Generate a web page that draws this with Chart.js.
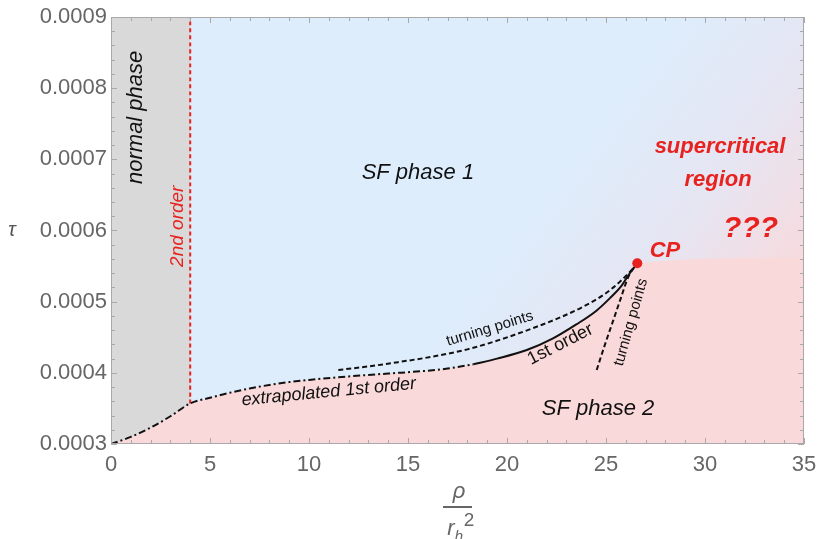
<!DOCTYPE html>
<html>
<head>
<meta charset="utf-8">
<script src="https://cdn.jsdelivr.net/npm/chart.js@4.4.0/dist/chart.umd.min.js"></script>
<style>
  html, body { margin: 0; padding: 0; background: #fff; }
</style>
</head>
<body>
<canvas id="chart" width="819" height="539"></canvas>
<script>
// phase boundaries (rho / r_h^2 , tau)
const extrapRho = [0, 1, 2, 3, 4, 5, 6, 7, 8, 9, 10, 12, 14, 16, 17, 18.3];
const extrapTau = [0.000300, 0.000310, 0.000323, 0.000339, 0.000357, 0.000365, 0.000372, 0.000378,
                   0.000383, 0.000387, 0.000390, 0.000395, 0.000399, 0.000403, 0.000406, 0.000412];
const firstRho = [18.3, 19.5, 21, 22.3, 23.5, 24.5, 25.2, 25.8, 26.2, 26.58];
const firstTau = [0.000412, 0.000420, 0.000432, 0.000448, 0.000468, 0.000487, 0.000505, 0.000523, 0.000540, 0.000554];
const turnUpRho = [11.48, 13, 14.5, 16.28, 18, 19.7, 21.33, 22.7, 23.85, 24.9, 25.7, 26.38, 26.58];
const turnUpTau = [0.000404, 0.000409, 0.000415, 0.000423, 0.000433, 0.000447, 0.000463, 0.000478,
                   0.000493, 0.000510, 0.000528, 0.000547, 0.000554];
const turnLoRho = [24.53, 24.95, 25.37, 25.75, 26.13, 26.58];
const turnLoTau = [0.000404, 0.000440, 0.000474, 0.000505, 0.000535, 0.000554];
const cpRho = 26.58, cpTau = 0.000554;
const secondOrderRho = 4;
const supercritEdgeTau = 0.000562;   // pink edge right of CP
const xTicks = [0, 5, 10, 15, 20, 25, 30, 35];
const yTicks = [0.0003, 0.0004, 0.0005, 0.0006, 0.0007, 0.0008, 0.0009];

const pts = (xs, ys) => xs.map((x, i) => ({ x, y: ys[i] }));
const extrap = pts(extrapRho, extrapTau);
const first = pts(firstRho, firstTau);

// region edges built from the curves
const normalEdge = extrap.filter(p => p.x <= secondOrderRho);
const sfEdge = extrap.filter(p => p.x >= secondOrderRho).concat(first.slice(1), [{ x: 35, y: supercritEdgeTau }]);
const secondOrderLine = [{ x: secondOrderRho, y: extrapTau[extrapRho.indexOf(secondOrderRho)] }, { x: secondOrderRho, y: 0.0009 }];

const PINK = '#f9d9d9', BLUE = '#ddedfc', GRAY = '#d9d9d9', RED = '#e8221e', FRAME = '#a9a9a9';
const FONT = '"Liberation Sans", Arial, sans-serif';

const notes = [
  { text: 'normal phase', x: 1.26, y: 0.000759, rot: -90, size: 22, color: '#111', font: 'italic' },
  { text: '2nd order', x: 3.38, y: 0.000606, rot: -90, size: 19, color: RED, font: 'italic' },
  { text: 'SF phase 1', x: 15.5, y: 0.000681, rot: 0, size: 22, color: '#111', font: 'italic' },
  { text: 'SF phase 2', x: 24.6, y: 0.000350, rot: 0, size: 22, color: '#111', font: 'italic' },
  { text: 'supercritical', x: 30.76, y: 0.000717, rot: 0, size: 22, color: RED, font: 'italic bold' },
  { text: 'region', x: 30.66, y: 0.000671, rot: 0, size: 22, color: RED, font: 'italic bold' },
  { text: '???', x: 32.3, y: 0.000603, rot: 0, size: 30, color: RED, font: 'italic bold' },
  { text: 'CP', x: 27.98, y: 0.000571, rot: 0, size: 22, color: RED, font: 'italic bold' },
  { text: 'extrapolated 1st order', x: 11.0, y: 0.000373, rot: -5.5, size: 18, color: '#111', font: 'italic' },
  { text: 'turning points', x: 19.14, y: 0.000462, rot: -17, size: 15, color: '#111', font: 'normal' },
  { text: '1st order', x: 22.7, y: 0.000440, rot: -27, size: 18, color: '#111', font: 'normal' },
  { text: 'turning points', x: 26.26, y: 0.000471, rot: -74, size: 15, color: '#111', font: 'normal' },
];

const bgPlugin = {
  id: 'bg',
  beforeDatasetsDraw(chart) {
    const { ctx, chartArea: a } = chart;
    ctx.save();
    ctx.fillStyle = PINK;
    ctx.fillRect(a.left, a.top, a.right - a.left, a.bottom - a.top);
    ctx.restore();
  }
};

const framePlugin = {
  id: 'frame',
  afterDatasetsDraw(chart) {
    const { ctx, chartArea: a, scales: { x, y } } = chart;
    ctx.save();
    // labels on the plot
    for (const n of notes) {
      ctx.save();
      ctx.translate(x.getPixelForValue(n.x), y.getPixelForValue(n.y));
      ctx.rotate(n.rot * Math.PI / 180);
      ctx.font = `${n.font} ${n.size}px ${FONT}`;
      ctx.fillStyle = n.color;
      ctx.textAlign = 'center';
      ctx.textBaseline = 'middle';
      ctx.fillText(n.text, 0, 0);
      ctx.restore();
    }
    // frame with inward ticks
    ctx.strokeStyle = FRAME;
    ctx.lineWidth = 1;
    ctx.strokeRect(a.left + 0.5, a.top + 0.5, a.right - a.left - 1, a.bottom - a.top - 1);
    ctx.beginPath();
    for (let i = 0; i <= 35; i++) {
      const px = Math.round(x.getPixelForValue(i)) + 0.5;
      const len = i % 5 === 0 ? 6 : 4;
      ctx.moveTo(px, a.bottom); ctx.lineTo(px, a.bottom - len);
      ctx.moveTo(px, a.top); ctx.lineTo(px, a.top + len);
    }
    for (let j = 0; j <= 30; j++) {
      const py = Math.round(y.getPixelForValue(0.0003 + j * 0.00002)) + 0.5;
      const len = j % 5 === 0 ? 6 : 4;
      ctx.moveTo(a.left, py); ctx.lineTo(a.left + len, py);
      ctx.moveTo(a.right, py); ctx.lineTo(a.right - len, py);
    }
    ctx.stroke();
    // axis titles
    ctx.fillStyle = '#555';
    ctx.textAlign = 'center';
    ctx.textBaseline = 'middle';
    ctx.font = `italic 20px ${FONT}`;
    ctx.fillText('τ', 12, y.getPixelForValue(0.0006));
    const cx = 457;
    ctx.fillStyle = '#666';
    ctx.font = `italic 22px ${FONT}`;
    ctx.fillText('ρ', cx + 2, 492);
    ctx.fillRect(cx - 14, 506, 29, 2);
    ctx.fillText('r', cx - 6, 529);
    ctx.font = `italic 15px ${FONT}`;
    ctx.fillText('h', cx + 2, 537);
    ctx.font = `19px ${FONT}`;
    ctx.fillText('2', cx + 12, 521);
    ctx.restore();
  }
};

function sfFill(c) {
  const { chart } = c;
  const { chartArea: a, scales } = chart;
  if (!a) return BLUE;
  const g = chart.ctx.createLinearGradient(scales.x.getPixelForValue(25), scales.y.getPixelForValue(0.00078),
                                           scales.x.getPixelForValue(35), scales.y.getPixelForValue(0.00057));
  g.addColorStop(0, BLUE);
  g.addColorStop(0.55, '#e6e5f2');
  g.addColorStop(1, '#f6dbdf');
  return g;
}

const line = (data, color, dash, order) => ({
  data, borderColor: color, borderWidth: 2, borderDash: dash, pointRadius: 0,
  cubicInterpolationMode: 'monotone', fill: false, order, showLine: true
});

new Chart(document.getElementById('chart').getContext('2d'), {
  type: 'scatter',
  data: {
    datasets: [
      { data: normalEdge, showLine: true, borderWidth: 0, pointRadius: 0, fill: 'end',
        backgroundColor: GRAY, cubicInterpolationMode: 'monotone', order: 10 },
      { data: sfEdge, showLine: true, borderWidth: 0, pointRadius: 0, fill: 'end',
        backgroundColor: sfFill, cubicInterpolationMode: 'monotone', order: 9 },
      line(secondOrderLine, RED, [4, 3], 5),
      line(extrap, '#111', [7, 3, 2, 3], 4),
      line(first, '#111', [], 3),
      line(pts(turnUpRho, turnUpTau), '#111', [5, 3], 3),
      line(pts(turnLoRho, turnLoTau), '#111', [5, 3], 3),
      { data: [{ x: cpRho, y: cpTau }], pointRadius: 5, pointBackgroundColor: RED, pointBorderWidth: 0, order: 1 },
    ]
  },
  options: {
    responsive: false, animation: false,
    layout: { padding: { top: 17, right: 15, left: 0, bottom: 0 } },
    plugins: { legend: { display: false }, tooltip: { enabled: false } },
    scales: {
      x: {
        type: 'linear', min: 0, max: 35,
        afterBuildTicks: s => { s.ticks = xTicks.map(v => ({ value: v })); },
        afterFit: s => { s.height = 95; s.paddingLeft = 0; s.paddingRight = 0; },
        grid: { display: false, drawTicks: false }, border: { display: false },
        ticks: { color: '#666', padding: 8, font: { family: FONT, size: 22 }, maxRotation: 0 }
      },
      y: {
        type: 'linear', min: 0.0003, max: 0.0009,
        afterBuildTicks: s => { s.ticks = yTicks.map(v => ({ value: v })); },
        afterFit: s => { s.width = 111; s.paddingTop = 0; s.paddingBottom = 0; },
        grid: { display: false, drawTicks: false }, border: { display: false },
        ticks: { color: '#666', padding: 4, font: { family: FONT, size: 22 }, callback: v => v.toFixed(4) }
      }
    }
  },
  plugins: [bgPlugin, framePlugin]
});
</script>
</body>
</html>
